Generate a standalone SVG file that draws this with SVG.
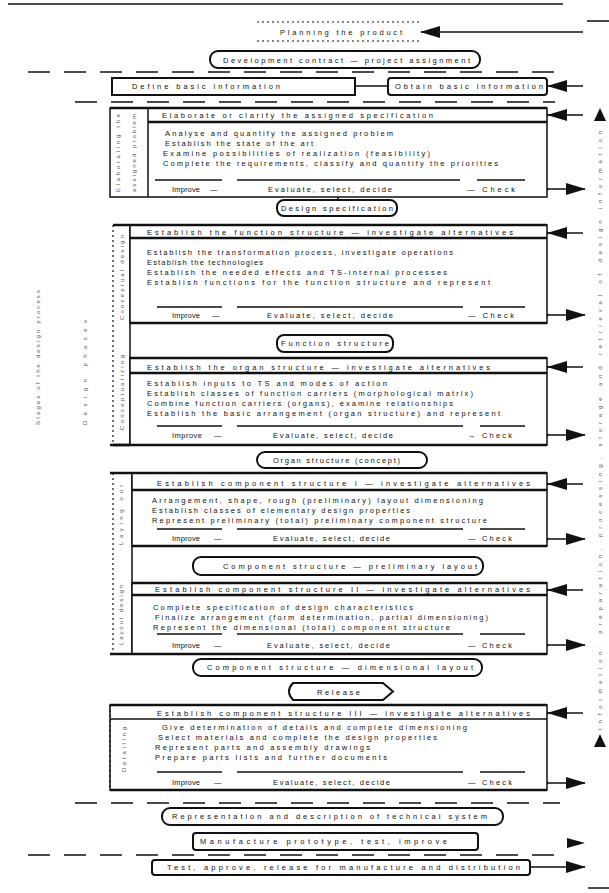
<svg xmlns="http://www.w3.org/2000/svg" width="609" height="893" viewBox="0 0 609 893">
<style>
.t{font-family:"Liberation Sans",Arial,sans-serif;font-size:7.5px;fill:#111}
.vt{font-family:"Liberation Sans",Arial,sans-serif;font-size:6px;fill:#555}
.box{fill:#fff;stroke:#111;stroke-width:1.5}
.ln{stroke:#111;stroke-width:1.5;fill:none}
.thk{stroke:#111;stroke-width:2.5;fill:none}
.dash{stroke:#111;stroke-width:1.5;stroke-dasharray:22 14;fill:none}
.dot{stroke:#111;stroke-width:1.2;stroke-dasharray:2 3;fill:none}
.node{fill:#fff;stroke:#111;stroke-width:2}
</style>
<defs>
<marker id="ah" markerUnits="userSpaceOnUse" markerWidth="20" markerHeight="12" refX="19" refY="6" orient="auto">
<path d="M0,0 L20,6 L0,12 Z" fill="#111"/>
</marker>
</defs>
<rect width="609" height="893" fill="#fff"/>

<g id="connectors">
<line class="ln" x1="8" y1="4" x2="563" y2="4"/>
<line class="ln" x1="587" y1="21" x2="609" y2="21"/>
<line class="ln" x1="588" y1="888" x2="609" y2="888"/>
<line class="dash" x1="28" y1="72" x2="560" y2="72"/>
<line class="dash" x1="75" y1="102" x2="555" y2="102"/>
<line class="dash" x1="75" y1="803" x2="560" y2="803"/>
<line class="dash" x1="28" y1="855" x2="560" y2="855"/>
<line class="ln" x1="583" y1="32" x2="421" y2="32" marker-end="url(#ah)"/>
<line class="ln" x1="355" y1="86" x2="388" y2="86"/>
<line class="ln" x1="583" y1="86" x2="548" y2="86" marker-end="url(#ah)"/>
<line class="ln" x1="583" y1="115" x2="548" y2="115" marker-end="url(#ah)"/>
<line class="ln" x1="547" y1="189" x2="585" y2="189" marker-end="url(#ah)"/>
<line class="ln" x1="583" y1="233" x2="548" y2="233" marker-end="url(#ah)"/>
<line class="ln" x1="547" y1="315" x2="585" y2="315" marker-end="url(#ah)"/>
<line class="ln" x1="583" y1="367" x2="548" y2="367" marker-end="url(#ah)"/>
<line class="ln" x1="547" y1="435" x2="585" y2="435" marker-end="url(#ah)"/>
<line class="ln" x1="583" y1="484" x2="548" y2="484" marker-end="url(#ah)"/>
<line class="ln" x1="547" y1="539" x2="585" y2="539" marker-end="url(#ah)"/>
<line class="ln" x1="583" y1="590" x2="548" y2="590" marker-end="url(#ah)"/>
<line class="ln" x1="547" y1="645" x2="585" y2="645" marker-end="url(#ah)"/>
<line class="ln" x1="583" y1="713" x2="548" y2="713" marker-end="url(#ah)"/>
<line class="ln" x1="547" y1="783" x2="585" y2="783" marker-end="url(#ah)"/>
<path d="M567,838 L585,843 L567,848 Z" fill="#111"/>
<line class="ln" x1="530" y1="867" x2="585" y2="867" marker-end="url(#ah)"/>
<path d="M600,108 L606,121 L594,121 Z" fill="#111"/>
<path d="M600,734 L606,747 L594,747 Z" fill="#111"/>
<line class="ln" x1="338" y1="190" x2="338" y2="201"/>
<line class="ln" x1="338" y1="303" x2="338" y2="311"/>
<line class="ln" x1="338" y1="422" x2="338" y2="430"/>
<line class="ln" x1="338" y1="765" x2="338" y2="773"/>
<g fill="#111">
<circle cx="547" cy="115" r="1.6"/><circle cx="547" cy="189" r="1.6"/>
<circle cx="547" cy="233" r="1.6"/><circle cx="547" cy="315" r="1.6"/>
<circle cx="547" cy="367" r="1.6"/><circle cx="547" cy="435" r="1.6"/>
<circle cx="547" cy="484" r="1.6"/><circle cx="547" cy="539" r="1.6"/>
<circle cx="547" cy="590" r="1.6"/><circle cx="547" cy="645" r="1.6"/>
<circle cx="547" cy="713" r="1.6"/><circle cx="547" cy="783" r="1.6"/>
</g>
<text class="vt" transform="translate(602,730) rotate(-90)" textLength="600" letter-spacing="1">Information: preparation, processing, storage and retrieval of design information</text>
<text class="vt" transform="translate(40,425) rotate(-90)" textLength="135">Stages of the design process</text>
<text class="vt" transform="translate(87,425) rotate(-90)" textLength="105">Design phases</text>
</g>

<g id="planning">
<line class="dot" x1="257" y1="22" x2="420" y2="22"/>
<line class="dot" x1="257" y1="41" x2="420" y2="41"/>
<text class="t" x="280" y="34.5" textLength="122">Planning the product</text>
</g>

<g id="contract">
<rect class="node" x="210" y="51" width="270" height="17" rx="8"/>
<text class="t" x="223" y="62.5" textLength="247">Development contract — project assignment</text>
</g>

<g id="define">
<rect class="node" x="112" y="78" width="243" height="17"/>
<text class="t" x="132" y="89" textLength="148">Define basic information</text>
</g>

<g id="obtain">
<rect class="node" x="388" y="78" width="159" height="17" rx="3"/>
<text class="t" x="395" y="89" textLength="148">Obtain basic information</text>
</g>

<g id="box1">
<rect class="box" x="110" y="108" width="437" height="89"/>
<line class="thk" x1="110" y1="108" x2="547" y2="108"/>
<line class="ln" x1="148" y1="108" x2="148" y2="197"/>
<line class="thk" x1="148" y1="122" x2="547" y2="122"/>
<text class="t" x="162" y="117.5" textLength="271">Elaborate or clarify the assigned specification</text>
<text class="t" x="165" y="135.5" textLength="228">Analyse and quantify the assigned problem</text>
<text class="t" x="165" y="145.5" textLength="148">Establish the state of the art</text>
<text class="t" x="163" y="155.5" textLength="267">Examine possibilities of realization (feasibility)</text>
<text class="t" x="163" y="165.5" textLength="335">Complete the requirements, classify and quantify the priorities</text>
<path class="ln" d="M155,180 H222 M237,180 H460 M477,180 H525"/>
<text class="t" x="172" y="191.5" textLength="28">Improve</text>
<text class="t" x="210" y="191.5">—</text>
<text class="t" x="268" y="191.5" textLength="124">Evaluate, select, decide</text>
<text class="t" x="467" y="191.5" textLength="48">— Check</text>
<text class="vt" transform="translate(120,192) rotate(-90)" textLength="78">Elaborating the</text>
<text class="vt" transform="translate(136,192) rotate(-90)" textLength="78">assigned problem</text>
</g>

<g id="design-spec">
<rect class="node" x="277" y="200" width="120" height="16" rx="7"/>
<text class="t" x="281" y="210.5" textLength="112">Design specification</text>
</g>

<g id="strip-concept">
<line class="dot" x1="113" y1="225" x2="113" y2="445"/>
<line class="ln" x1="130" y1="225" x2="130" y2="445"/>
<line class="thk" x1="113" y1="225" x2="130" y2="225"/>
<line class="thk" x1="113" y1="445" x2="130" y2="445"/>
<text class="vt" transform="translate(124,320) rotate(-90)" textLength="85">Conceptual design</text>
<text class="vt" transform="translate(124,430) rotate(-90)" textLength="75">Conceptualizing</text>
</g>

<g id="box2">
<rect class="box" x="130" y="225" width="417" height="98"/>
<line class="thk" x1="130" y1="225" x2="547" y2="225"/>
<line class="thk" x1="130" y1="238" x2="547" y2="238"/>
<text class="t" x="147" y="234.5" textLength="366">Establish the function structure — investigate alternatives</text>
<text class="t" x="147" y="254.5" textLength="306">Establish the transformation process, investigate operations</text>
<text class="t" x="147" y="264.5" textLength="116">Establish the technologies</text>
<text class="t" x="147" y="274.5" textLength="300">Establish the needed effects and TS-internal processes</text>
<text class="t" x="147" y="284.5" textLength="343">Establish functions for the function structure and represent</text>
<path class="ln" d="M157,307 H222 M237,307 H463 M480,307 H525"/>
<text class="t" x="172" y="317.5" textLength="28">Improve</text>
<text class="t" x="212" y="317.5">—</text>
<text class="t" x="267" y="317.5" textLength="126">Evaluate, select, decide</text>
<text class="t" x="468" y="317.5" textLength="46">— Check</text>
<line class="thk" x1="130" y1="323" x2="547" y2="323"/>
</g>

<g id="function-structure">
<rect class="node" x="277" y="335" width="116" height="17" rx="7"/>
<text class="t" x="281" y="346" textLength="108">Function structure</text>
</g>

<g id="box3">
<rect class="box" x="130" y="358" width="417" height="87"/>
<line class="thk" x1="130" y1="358" x2="547" y2="358"/>
<line class="thk" x1="130" y1="373" x2="547" y2="373"/>
<text class="t" x="147" y="369.5" textLength="343">Establish the organ structure — investigate alternatives</text>
<text class="t" x="147" y="385.5" textLength="240">Establish inputs to TS and modes of action</text>
<text class="t" x="147" y="395.5" textLength="326">Establish classes of function carriers (morphological matrix)</text>
<text class="t" x="147" y="405.5" textLength="306">Combine function carriers (organs), examine relationships</text>
<text class="t" x="147" y="415.5" textLength="353">Establish the basic arrangement (organ structure) and represent</text>
<path class="ln" d="M157,426 H222 M237,426 H463 M480,426 H525"/>
<text class="t" x="172" y="437.5" textLength="30">Improve</text>
<text class="t" x="214" y="437.5">—</text>
<text class="t" x="273" y="437.5" textLength="120">Evaluate, select, decide</text>
<text class="t" x="468" y="437.5" textLength="44">→ Check</text>
<line class="thk" x1="110" y1="445" x2="547" y2="445"/>
</g>

<g id="organ-structure">
<rect class="node" x="257" y="452" width="170" height="16" rx="8"/>
<text class="t" x="273" y="462.5" textLength="127">Organ structure (concept)</text>
</g>

<g id="strip-layout">
<line class="dot" x1="113" y1="473" x2="113" y2="654"/>
<line class="ln" x1="132" y1="473" x2="132" y2="654"/>
<text class="vt" transform="translate(123,545) rotate(-90)" textLength="60">Laying out</text>
<text class="vt" transform="translate(123,645) rotate(-90)" textLength="60">Layout design</text>
</g>

<g id="box4">
<rect class="box" x="132" y="473" width="415" height="73"/>
<line class="thk" x1="110" y1="473" x2="547" y2="473"/>
<line class="thk" x1="132" y1="490" x2="547" y2="490"/>
<text class="t" x="157" y="485.5" textLength="373">Establish component structure I — investigate alternatives</text>
<text class="t" x="152" y="502.5" textLength="331">Arrangement, shape, rough (preliminary) layout dimensioning</text>
<text class="t" x="152" y="512.5" textLength="258">Establish classes of elementary design properties</text>
<text class="t" x="152" y="522.5" textLength="335">Represent preliminary (total) preliminary component structure</text>
<path class="ln" d="M157,529 H222 M237,529 H463 M480,529 H525"/>
<text class="t" x="172" y="540.5" textLength="28">Improve</text>
<text class="t" x="214" y="540.5">—</text>
<text class="t" x="273" y="540.5" textLength="117">Evaluate, select, decide</text>
<text class="t" x="468" y="540.5" textLength="44">— Check</text>
<line class="thk" x1="132" y1="546" x2="547" y2="546"/>
</g>

<g id="component-prelim">
<rect class="node" x="193" y="557" width="290" height="18" rx="8"/>
<text class="t" x="223" y="568.5" textLength="254">Component structure — preliminary layout</text>
</g>

<g id="box5">
<rect class="box" x="132" y="583" width="415" height="71"/>
<line class="thk" x1="132" y1="583" x2="547" y2="583"/>
<line class="thk" x1="132" y1="595" x2="547" y2="595"/>
<text class="t" x="155" y="591.5" textLength="375">Establish component structure II — investigate alternatives</text>
<text class="t" x="153" y="609.5" textLength="260">Complete specification of design characteristics</text>
<text class="t" x="155" y="619.5" textLength="333">Finalize arrangement (form determination, partial dimensioning)</text>
<text class="t" x="153" y="629.5" textLength="297">Represent the dimensional (total) component structure</text>
<path class="ln" d="M157,634 H222 M237,634 H463 M480,634 H525"/>
<text class="t" x="172" y="647.5" textLength="28">Improve</text>
<text class="t" x="214" y="647.5">—</text>
<text class="t" x="267" y="647.5" textLength="123">Evaluate, select, decide</text>
<text class="t" x="468" y="647.5" textLength="44">— Check</text>
<line class="thk" x1="110" y1="654" x2="547" y2="654"/>
</g>

<g id="component-dim">
<rect class="node" x="193" y="659" width="289" height="17" rx="8"/>
<text class="t" x="207" y="670" textLength="266">Component structure — dimensional layout</text>
</g>

<g id="release">
<path class="node" d="M293,683 H383 L393,691.5 L383,700 H293 Q285,691.5 293,683 Z"/>
<text class="t" x="317" y="694.5" textLength="43">Release</text>
</g>

<g id="box6">
<rect class="box" x="110" y="705" width="437" height="85"/>
<line class="dot" x1="110" y1="705" x2="110" y2="790"/>
<line class="thk" x1="110" y1="705" x2="547" y2="705"/>
<line class="ln" x1="110" y1="719" x2="547" y2="719"/>
<text class="t" x="157" y="715.5" textLength="373">Establish component structure III — investigate alternatives</text>
<text class="t" x="162" y="729.5" textLength="305">Give determination of details and complete dimensioning</text>
<text class="t" x="158" y="739.5" textLength="279">Select materials and complete the design properties</text>
<text class="t" x="155" y="749.5" textLength="215">Represent parts and assembly drawings</text>
<text class="t" x="155" y="759.5" textLength="232">Prepare parts lists and further documents</text>
<path class="ln" d="M157,772 H222 M237,772 H463 M480,772 H525"/>
<text class="t" x="172" y="784.5" textLength="28">Improve</text>
<text class="t" x="214" y="784.5">—</text>
<text class="t" x="273" y="784.5" textLength="117">Evaluate, select, decide</text>
<text class="t" x="468" y="784.5" textLength="44">— Check</text>
<line class="thk" x1="110" y1="790" x2="547" y2="790"/>
<text class="vt" transform="translate(126,772) rotate(-90)" textLength="45">Detailing</text>
</g>

<g id="representation">
<rect class="node" x="162" y="808" width="341" height="17" rx="8"/>
<text class="t" x="172" y="819" textLength="315">Representation and description of technical system</text>
</g>

<g id="manufacture">
<rect class="node" x="193" y="833" width="285" height="17" rx="3"/>
<text class="t" x="200" y="844" textLength="247">Manufacture prototype, test, improve</text>
</g>

<g id="final">
<rect class="node" x="152" y="860" width="378" height="15" rx="3"/>
<text class="t" x="167" y="870" textLength="353">Test, approve, release for manufacture and distribution</text>
</g>
</svg>
